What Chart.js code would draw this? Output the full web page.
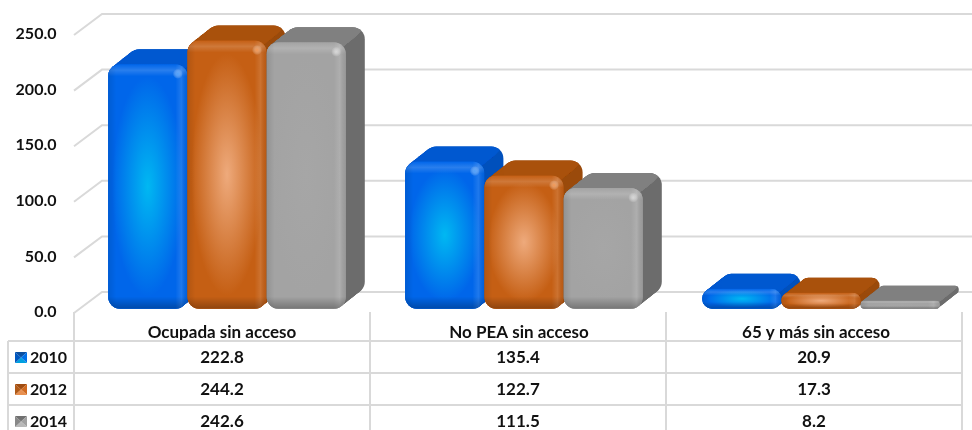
<!DOCTYPE html>
<html>
<head>
<meta charset="utf-8">
<style>html,body{margin:0;padding:0;background:#fff}canvas{display:block}</style>
<script src="https://cdn.jsdelivr.net/npm/chart.js@4"></script>
</head>
<body>
<canvas id="c" width="972" height="430"></canvas>
<script>
const categories = ['Ocupada sin acceso', 'No PEA sin acceso', '65 y más sin acceso'];
const years = ['2010', '2012', '2014'];
const series2010 = [222.8, 135.4, 20.9];
const series2012 = [244.2, 122.7, 17.3];
const series2014 = [242.6, 111.5, 8.2];
const allSeries = [series2010, series2012, series2014];

const FAMILY = 'Lato, "Open Sans", sans-serif';
const GRID = '#d9d9d9';
const DX = 19, DY = 15, R = 12;
const looks = [
  {edge:'#0066ea', mid:'#00b8f2', top:'#0058d0', side:'#0050bc', key:['#0a4fa0','#0070e8','#00a0e0','#0058c0'], spot:'rgba(90,170,255,0.8)'},
  {edge:'#c55f14', mid:'#eeaa7c', top:'#a9510c', side:'#9a4a0b', key:['#a04c10','#d06a20','#e89050','#b05a18'], spot:'rgba(255,160,90,0.8)'},
  {edge:'#a3a3a3', mid:'#a6a6a6', top:'#808080', side:'#6c6c6c', key:['#707070','#a0a0a0','#b8b8b8','#888888'], spot:'rgba(225,225,225,0.8)'}
];

function rr(ctx, x, y, w, h, r) {
  ctx.beginPath();
  ctx.roundRect(x, y, w, h, Math.min(r, h / 2, w / 2));
}

function drawBar(ctx, b, look) {
  const left = b.x - b.width / 2, w = b.width, top = Math.min(b.y, b.base), h = Math.abs(b.base - b.y);
  const r = Math.min(R, h / 2);
  ctx.save();
  ctx.fillStyle = look.side;
  for (let i = 0; i <= DX; i++) {
    const t = i / DX;
    rr(ctx, left + DX * t, top - DY * t, w, h, r);
    ctx.fill();
  }
  ctx.save();
  ctx.beginPath();
  ctx.moveTo(left - 3, top - DY - 3);
  ctx.lineTo(left + w + DX + 3, top - DY - 3);
  ctx.lineTo(left + w + DX - r * 0.7, top - DY + r * 0.7);
  ctx.lineTo(left + w - r * 0.7, top + r * 0.7);
  ctx.lineTo(left - 3, top + r * 0.7);
  ctx.closePath();
  ctx.clip();
  ctx.fillStyle = look.top;
  for (let i = 0; i <= DX; i++) {
    const t = i / DX;
    rr(ctx, left + DX * t, top - DY * t, w, h, r);
    ctx.fill();
  }
  ctx.restore();

  rr(ctx, left, top, w, h, r);
  ctx.clip();
  ctx.fillStyle = look.edge;
  ctx.fillRect(left, top, w, h);
  ctx.save();
  ctx.translate(left + w / 2, top + h / 2);
  ctx.scale(w / 2, h / 2);
  const g = ctx.createRadialGradient(0, 0, 0, 0, 0, 1);
  g.addColorStop(0, look.mid);
  g.addColorStop(0.9, look.edge);
  ctx.fillStyle = g;
  ctx.fillRect(-1, -1, 2, 2);
  ctx.restore();
  const band = Math.min(R, h / 3);
  let gr = ctx.createLinearGradient(0, top, 0, top + band);
  gr.addColorStop(0, 'rgba(255,255,255,0)');
  gr.addColorStop(0.5, 'rgba(255,255,255,0.16)');
  gr.addColorStop(1, 'rgba(255,255,255,0)');
  ctx.fillStyle = gr;
  ctx.fillRect(left, top, w, band);
  gr = ctx.createLinearGradient(left + w - R, 0, left + w, 0);
  gr.addColorStop(0, 'rgba(255,255,255,0)');
  gr.addColorStop(0.5, 'rgba(255,255,255,0.12)');
  gr.addColorStop(1, 'rgba(0,0,0,0.06)');
  ctx.fillStyle = gr;
  ctx.fillRect(left + w - R, top, R, h);
  gr = ctx.createLinearGradient(left, 0, left + 8, 0);
  gr.addColorStop(0, 'rgba(0,0,0,0.10)');
  gr.addColorStop(1, 'rgba(0,0,0,0)');
  ctx.fillStyle = gr;
  ctx.fillRect(left, top, 8, h);
  gr = ctx.createLinearGradient(0, top + h - band, 0, top + h);
  gr.addColorStop(0, 'rgba(0,0,0,0)');
  gr.addColorStop(1, 'rgba(0,0,0,0.28)');
  ctx.fillStyle = gr;
  ctx.fillRect(left, top + h - band, w, band);
  if (h > 24) {
    const sx = left + w - R * 0.8, sy = top + R * 0.8;
    const s = ctx.createRadialGradient(sx, sy, 0, sx, sy, 5);
    s.addColorStop(0, look.spot);
    s.addColorStop(1, 'rgba(255,255,255,0)');
    ctx.fillStyle = s;
    ctx.fillRect(sx - 5, sy - 5, 10, 10);
  }
  ctx.restore();
}

const bars3d = {
  id: 'bars3d',
  beforeDatasetsDraw(chart) {
    const {ctx, chartArea: a, scales: {y}} = chart;
    ctx.save();
    ctx.strokeStyle = GRID;
    ctx.lineWidth = 2;
    y.ticks.forEach(t => {
      const py = y.getPixelForValue(t.value);
      ctx.beginPath();
      ctx.moveTo(a.left - 4.5, py + 1);
      ctx.lineTo(a.left + 23.5, py - 20);
      ctx.lineTo(972, py - 20);
      ctx.stroke();
    });
    ctx.restore();
  },
  afterDatasetsDraw(chart) {
    const ctx = chart.ctx;
    years.forEach((yr, i) => {
      chart.getDatasetMeta(i).data.forEach(b => drawBar(ctx, b, looks[i]));
    });
  },
  afterDraw(chart) {
    const {ctx, scales: {x}} = chart;
    const step = x.getPixelForTick(1) - x.getPixelForTick(0) - 1;
    const first = x.getPixelForTick(0) - step / 2 - 5;
    const rows = [341, 373, 405];
    ctx.save();
    ctx.strokeStyle = GRID;
    ctx.lineWidth = 2;
    ctx.beginPath();
    rows.forEach(ry => { ctx.moveTo(8, ry); ctx.lineTo(first + step * categories.length, ry); });
    ctx.moveTo(8, 341); ctx.lineTo(8, 430);
    for (let i = 0; i <= categories.length; i++) {
      ctx.moveTo(first + step * i, 312);
      ctx.lineTo(first + step * i, 430);
    }
    ctx.stroke();
    ctx.fillStyle = '#111';
    ctx.textBaseline = 'middle';
    years.forEach((yr, r) => {
      const cy = rows[r] + 16.5;
      const k = looks[r].key, kx = 15, ky = cy - 5.5, kw = 12, kh = 11;
      const mx = kx + kw / 2, my = ky + kh / 2;
      [[kx, ky, kx + kw, ky], [kx + kw, ky, kx + kw, ky + kh], [kx + kw, ky + kh, kx, ky + kh], [kx, ky + kh, kx, ky]].forEach((p, i) => {
        ctx.fillStyle = k[i];
        ctx.beginPath();
        ctx.moveTo(p[0], p[1]); ctx.lineTo(p[2], p[3]); ctx.lineTo(mx, my);
        ctx.closePath(); ctx.fill();
      });
      ctx.fillStyle = '#111';
      ctx.textAlign = 'left';
      ctx.font = 'bold 16px ' + FAMILY;
      ctx.fillText(yr, 30, cy);
      ctx.textAlign = 'center';
      ctx.font = 'bold 17px ' + FAMILY;
      allSeries[r].forEach((v, c) => {
        ctx.fillText(v.toFixed(1), first + step * (c + 0.5), cy);
      });
    });
    ctx.restore();
  }
};

new Chart(document.getElementById('c'), {
  type: 'bar',
  data: {
    labels: categories,
    datasets: years.map((yr, i) => ({
      label: yr,
      data: allSeries[i],
      backgroundColor: looks[i].edge,
      borderRadius: R,
      borderSkipped: false,
      base: 3,
      minBarLength: 8
    }))
  },
  plugins: [bars3d],
  options: {
    responsive: false,
    animation: false,
    layout: {padding: {top: 34, right: 2.5, left: 0, bottom: 0}},
    plugins: {legend: {display: false}, tooltip: {enabled: false}, title: {display: false}},
    datasets: {bar: {categoryPercentage: 0.8, barPercentage: 1}},
    scales: {
      x: {
        grid: {display: false, drawTicks: false},
        border: {display: false},
        ticks: {color: '#111', font: {family: FAMILY, size: 17, weight: 'bold'}, padding: 10, labelOffset: -5, maxRotation: 0},
        afterFit(s) { s.height = 118; }
      },
      y: {
        min: 0,
        max: 250,
        grid: {display: false, drawTicks: false},
        border: {display: false},
        ticks: {stepSize: 50, color: '#111', padding: 22, font: {family: FAMILY, size: 16, weight: 'bold'}, callback: v => v.toFixed(1)},
        afterFit(s) { s.width = 78.5; }
      }
    }
  }
});
</script>
</body>
</html>
